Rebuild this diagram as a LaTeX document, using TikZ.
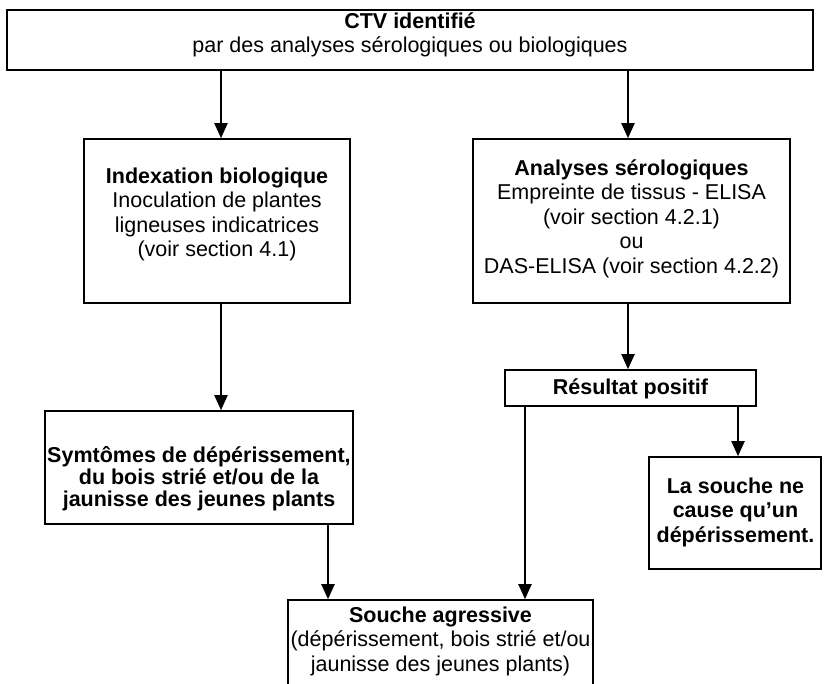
\documentclass[tikz,border=0pt]{standalone}
\usepackage{fontspec}
\setmainfont{Liberation Sans}
\usetikzlibrary{arrows.meta}
\begin{document}
\begin{tikzpicture}[x=1pt,y=-1pt,
  box/.style={draw=black,line width=1.6pt,rectangle,inner sep=0pt,fill=white},
  txt/.style={align=center,inner sep=0pt,font=\fontsize{21.5}{24.5}\selectfont},
  txttight/.style={align=center,inner sep=0pt,font=\fontsize{21.5}{22}\selectfont},
  arr/.style={line width=2pt,-{Triangle[width=13pt,length=15pt]}},
  ln/.style={line width=2pt}]
\clip (0,0) rectangle (824,684);
\fill[white] (0,0) rectangle (824,684);
% boxes
\node[box,minimum width=806pt,minimum height=60pt] (top) at (410,40) {};
\node[box,minimum width=266pt,minimum height=164pt] (idx) at (217,221) {};
\node[box,minimum width=317pt,minimum height=164pt] (ana) at (631.5,221) {};
\node[box,minimum width=251pt,minimum height=36pt] (res) at (630.5,388) {};
\node[box,minimum width=308pt,minimum height=113pt] (sym) at (199,467.5) {};
\node[box,minimum width=172pt,minimum height=112pt] (dep) at (735,513) {};
\node[box,minimum width=305pt,minimum height=120pt] (sou) at (440.5,660) {};
% texts
\node[txt] (topT) at (410,35) {\textbf{CTV identifié}\\par des analyses sérologiques ou biologiques};
\node[txt] (idxT) at (217,214.5) {\textbf{Indexation biologique}\\Inoculation de plantes\\ligneuses indicatrices\\(voir section 4.1)};
\node[txt] (anaT) at (631.5,218.5) {\textbf{Analyses sérologiques}\\Empreinte de tissus - ELISA\\(voir section 4.2.1)\\ou\\DAS-ELISA (voir section 4.2.2)};
\node[txt] (resT) at (630.5,389) {\textbf{Résultat positif}};
\node[txttight] (symT) at (199,478.5) {\textbf{Symtômes de dépérissement,}\\\textbf{du bois strié et/ou de la}\\\textbf{jaunisse des jeunes plants}};
\node[txt] (depT) at (735.5,512) {\textbf{La souche ne}\\\textbf{cause qu’un}\\\textbf{dépérissement.}};
\node[txt] (souT) at (440.5,641) {\textbf{Souche agressive}\\(dépérissement, bois strié et/ou\\jaunisse des jeunes plants)};
% connector anchors
\coordinate (c1) at (221,0);
\coordinate (c2) at (628,0);
\coordinate (c3) at (738,0);
\coordinate (c4) at (525,0);
\coordinate (c5) at (328,0);
% connectors
\draw[arr] (c1 |- top.south) -- (c1 |- idx.north);
\draw[arr] (c2 |- top.south) -- (c2 |- ana.north);
\draw[arr] (c1 |- idx.south) -- (c1 |- sym.north);
\draw[arr] (c2 |- ana.south) -- (c2 |- res.north);
\draw[arr] (c3 |- res.south) -- (c3 |- dep.north);
\draw[arr] (c4 |- res.south) -- (c4 |- sou.north);
\draw[arr] (c5 |- sym.south) -- (c5 |- sou.north);
\end{tikzpicture}
\end{document}
